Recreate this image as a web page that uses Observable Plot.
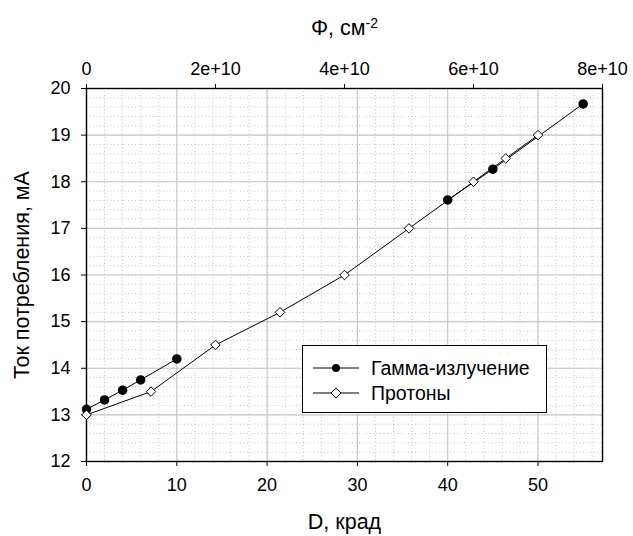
<!DOCTYPE html>
<html>
<head>
<meta charset="utf-8">
<script src="https://cdn.jsdelivr.net/npm/d3@7"></script>
<script src="https://cdn.jsdelivr.net/npm/@observablehq/plot@0.6"></script>
<style>
  body { margin: 0; background: #fff; }
  #wrap { position: relative; width: 633px; height: 536px; font-family: "Liberation Sans", Arial, sans-serif; }
  #legend { position: absolute; left: 302px; top: 345px; width: 243px; height: 66px; border: 1.5px solid #000; background: #fff; font-size: 19.5px; }
  .row { position: absolute; left: 10px; height: 22px; display: flex; align-items: center; }
  .row svg { margin-right: 12px; }
</style>
</head>
<body>
<div id="wrap"></div>
<script>
// ---- data ----
const phiPerKrad = 1.4e9;               // Φ (cm^-2) per krad, ratio of the top and bottom axes
const gammaD = [0, 2, 4, 6, 10, 40, 45, 55];
const gammaI = [13.12, 13.32, 13.53, 13.75, 14.2, 17.61, 18.27, 19.67];
const gammaSeg = [1, 1, 1, 1, 1, 2, 2, 2];
const protonPhi = [0, 1e10, 2e10, 3e10, 4e10, 5e10, 6e10, 6.5e10, 7e10];
const protonI = [13.0, 13.5, 14.5, 15.2, 16.0, 17.0, 18.0, 18.5, 19.0];
const xTicks = [0, 10, 20, 30, 40, 50];
const yTicks = [12, 13, 14, 15, 16, 17, 18, 19, 20];
const phiTicks = [0, 2e10, 4e10, 6e10, 8e10];
const phiLabels = ["0", "2e+10", "4e+10", "6e+10", "8e+10"];
const seriesNames = ["Гамма-излучение", "Протоны"];

const gamma = gammaD.map((d, i) => ({D: d, I: gammaI[i], seg: gammaSeg[i]}));
const protons = protonPhi.map((p, i) => ({D: p / phiPerKrad, I: protonI[i]}));

const xMax = phiTicks[phiTicks.length - 1] / phiPerKrad;
const xMinor = d3.range(0, xMax, 2);
const yMinor = d3.range(12, 20.001, 0.2);

const chart = Plot.plot({
  width: 633,
  height: 536,
  marginLeft: 86,
  marginRight: 31,
  marginTop: 88,
  marginBottom: 75,
  style: {fontFamily: "'Liberation Sans', Arial, sans-serif", fontSize: "18px", color: "#000", background: "#fff"},
  x: {domain: [0, xMax]},
  y: {domain: [12, 20]},
  marks: [
    Plot.ruleX(xMinor, {stroke: "#c2c2c2", strokeDasharray: "1,2.5", strokeWidth: 1}),
    Plot.ruleY(yMinor, {stroke: "#c2c2c2", strokeDasharray: "1,2.5", strokeWidth: 1}),
    Plot.ruleX(xTicks, {stroke: "#c8c8c8", strokeWidth: 1.2}),
    Plot.ruleY(yTicks, {stroke: "#c8c8c8", strokeWidth: 1.2}),
    Plot.frame({stroke: "#000", strokeWidth: 1.4}),
    Plot.axisX(xTicks, {anchor: "bottom", tickSize: 5, tickPadding: 12, label: null, tickFormat: d => String(d)}),
    Plot.axisX(phiTicks.map(p => p / phiPerKrad), {anchor: "top", tickSize: 5, tickPadding: 9, label: null, tickFormat: (d, i) => phiLabels[i]}),
    Plot.axisY(yTicks, {anchor: "left", tickSize: 5, tickPadding: 11, label: null, tickFormat: d => String(d)}),
    Plot.line(gamma, {x: "D", y: "I", z: "seg", stroke: "#000", strokeWidth: 1}),
    Plot.line(protons, {x: "D", y: "I", stroke: "#000", strokeWidth: 1}),
    Plot.dot(gamma, {x: "D", y: "I", r: 4, fill: "#000", stroke: "#000"}),
    Plot.dot(protons, {x: "D", y: "I", r: 4.3, symbol: "diamond2", fill: "#fff", stroke: "#000", strokeWidth: 1}),
    Plot.text(["D, крад"], {frameAnchor: "bottom", dy: 61, fontSize: 21.5, lineAnchor: "middle", textAnchor: "middle"}),
    Plot.text(["Φ, см-2"], {frameAnchor: "top", dy: -60, fontSize: 21.5, lineAnchor: "middle", textAnchor: "middle"}),
    Plot.text(["Ток потребления, мА"], {frameAnchor: "left", dx: -64, rotate: -90, fontSize: 21.5, lineAnchor: "middle", textAnchor: "middle"})
  ]
});

// superscript for the top axis title
d3.select(chart).selectAll("text").filter(function() { return this.textContent === "Φ, см-2"; })
  .each(function() {
    const t = d3.select(this);
    t.text("Φ, см");
    t.append("tspan").attr("dy", "-0.55em").attr("font-size", "14px").text("-2");
  });

const wrap = document.getElementById("wrap");
wrap.appendChild(chart);

// legend
const legend = document.createElement("div");
legend.id = "legend";
const symbols = [
  `<svg width="46" height="12"><line x1="0" y1="6" x2="46" y2="6" stroke="#000"/><circle cx="23" cy="6" r="4" fill="#000"/></svg>`,
  `<svg width="46" height="12"><line x1="0" y1="6" x2="46" y2="6" stroke="#000"/><path d="M23,1 L28,6 L23,11 L18,6 Z" fill="#fff" stroke="#000"/></svg>`
];
seriesNames.forEach((name, i) => {
  const row = document.createElement("div");
  row.className = "row";
  row.style.top = (11 + i * 25) + "px";
  row.innerHTML = symbols[i] + `<span>${name}</span>`;
  legend.appendChild(row);
});
wrap.appendChild(legend);
</script>
</body>
</html>
